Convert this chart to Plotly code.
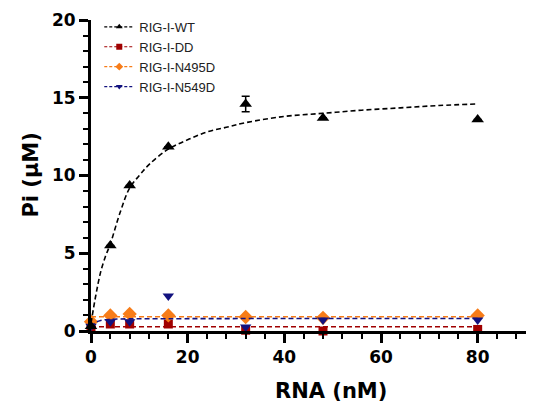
import plotly.graph_objects as go

# ---- data ----
rna_nM = [0, 4, 8, 16, 32, 48, 80]

wt_pi = [0.3, 5.5, 9.35, 11.85, 14.6, 13.7, 13.6]
wt_err = [0, 0, 0, 0, 0.5, 0, 0]
dd_pi = [0.25, 0.45, 0.45, 0.45, 0.05, 0.0, 0.1]
n495d_pi = [0.6, 1.0, 1.1, 1.0, 0.9, 0.85, 1.0]
n549d_pi = [0.3, 0.6, 0.6, 2.25, 0.25, 0.7, 0.7]

# fitted curves
wt_fit_x = [0, 1, 2, 3, 4, 6, 8, 10, 12, 16, 20, 24, 28, 32, 40, 48, 56, 64, 72, 80]
wt_fit_y = [0.5, 2.3, 3.8, 4.8, 5.6, 7.6, 9.2, 10.0, 10.7, 11.7, 12.3, 12.8, 13.1,
            13.4, 13.8, 14.0, 14.2, 14.35, 14.5, 14.6]
dd_fit_x = [0, 80]
dd_fit_y = [0.27, 0.27]
n495d_fit_x = [0, 80]
n495d_fit_y = [0.92, 0.92]
n549d_fit_x = [0, 1, 2, 4, 8, 16, 32, 48, 80]
n549d_fit_y = [0.25, 0.55, 0.68, 0.75, 0.78, 0.79, 0.8, 0.8, 0.8]

series_names = ["RIG-I-WT", "RIG-I-DD", "RIG-I-N495D", "RIG-I-N549D"]

BLACK = "#000000"
RED = "#a00000"
ORANGE = "#f77c18"
NAVY = "#12127f"

styles = {
    "RIG-I-WT": dict(color=BLACK, symbol="triangle-up", size=11),
    "RIG-I-DD": dict(color=RED, symbol="square", size=9),
    "RIG-I-N495D": dict(color=ORANGE, symbol="diamond", size=11),
    "RIG-I-N549D": dict(color=NAVY, symbol="triangle-down", size=10),
}

data = {
    "RIG-I-WT": (wt_pi, wt_fit_x, wt_fit_y),
    "RIG-I-DD": (dd_pi, dd_fit_x, dd_fit_y),
    "RIG-I-N495D": (n495d_pi, n495d_fit_x, n495d_fit_y),
    "RIG-I-N549D": (n549d_pi, n549d_fit_x, n549d_fit_y),
}

fig = go.Figure()

draw_order = ["RIG-I-DD", "RIG-I-N495D", "RIG-I-N549D", "RIG-I-WT"]
for name in draw_order:
    ys, fx, fy = data[name]
    st = styles[name]
    fig.add_trace(go.Scatter(
        x=fx, y=fy, mode="lines", showlegend=False, cliponaxis=False,
        line=dict(color=st["color"], width=1.6, dash="5px,3px",
                  shape="spline" if len(fx) > 2 else "linear"),
        hoverinfo="skip"))
    kw = {}
    if name == "RIG-I-WT":
        kw["error_y"] = dict(type="data", array=wt_err, color=BLACK,
                             thickness=1.5, width=4)
    fig.add_trace(go.Scatter(
        x=rna_nM, y=ys, mode="markers", showlegend=False, cliponaxis=False,
        marker=dict(color=st["color"], symbol=st["symbol"], size=st["size"]),
        **kw))

# legend entries (line + marker)
for name in series_names:
    st = styles[name]
    fig.add_trace(go.Scatter(
        x=[None], y=[None], mode="lines+markers", name=name, legendgroup=name,
        line=dict(color=st["color"], width=1.2, dash="3px,2px"),
        marker=dict(color=st["color"], symbol=st["symbol"], size=6)))

axis_common = dict(
    showline=True, linecolor="black", linewidth=3,
    ticks="outside", ticklen=9, tickwidth=3, tickcolor="black",
    showgrid=False, zeroline=False, automargin=False,
    tickfont=dict(family="DejaVu Sans", size=17, color="black", weight="bold"),
)

fig.update_xaxes(range=[0, 90], tick0=0, dtick=20, **axis_common,
                 minor=dict(tick0=0, dtick=4, ticks="outside", ticklen=5,
                            tickwidth=2, tickcolor="black"))
fig.update_yaxes(range=[0, 20], tick0=0, dtick=5, **axis_common,
                 minor=dict(tick0=0, dtick=1, ticks="outside", ticklen=5,
                            tickwidth=2, tickcolor="black"))

fig.add_annotation(text="RNA (nM)", xref="paper", yref="paper", x=0.552, y=-0.193,
                   xanchor="center", yanchor="middle", showarrow=False,
                   font=dict(family="DejaVu Sans", size=21, color="black", weight="bold"))
fig.add_annotation(text="Pi (\u03bcM)", xref="paper", yref="paper", x=-0.14, y=0.5,
                   xanchor="center", yanchor="middle", showarrow=False, textangle=-90,
                   font=dict(family="DejaVu Sans", size=21, color="black", weight="bold"))

fig.update_layout(
    width=543, height=404,
    margin=dict(l=91, r=17, t=20, b=73, autoexpand=False),
    plot_bgcolor="white", paper_bgcolor="white",
    legend=dict(x=0.019, y=1.026, xanchor="left", yanchor="top",
                bgcolor="rgba(0,0,0,0)", tracegroupgap=0,
                font=dict(family="Liberation Sans", size=13, color="#222222")),
)

fig.write_html("out.html", config={"displayModeBar": False},
               post_script="document.body.style.margin='0';document.body.style.padding='0';")
